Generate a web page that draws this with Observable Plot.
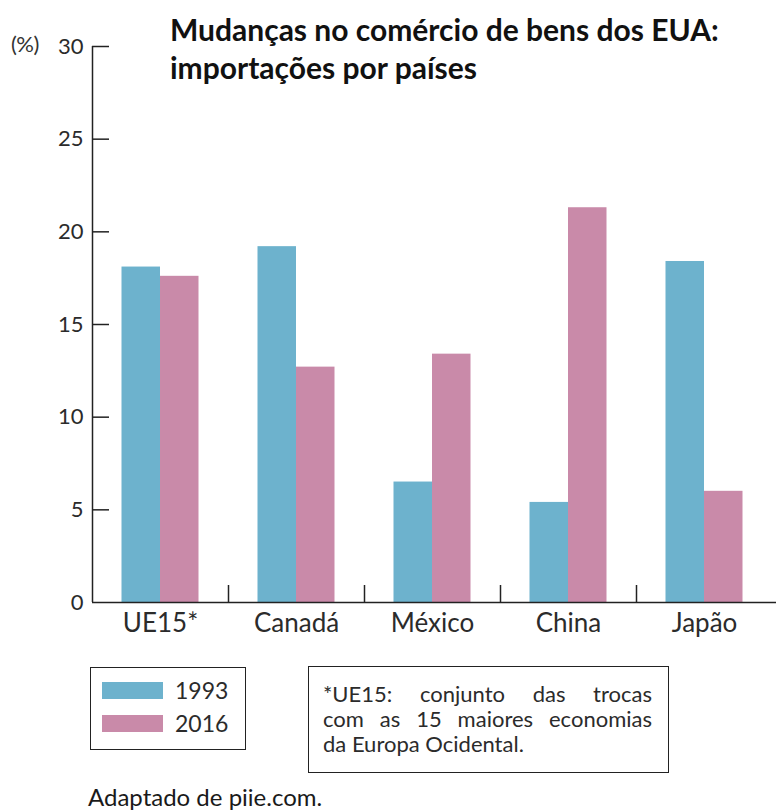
<!DOCTYPE html>
<html>
<head>
<meta charset="utf-8">
<script src="https://cdn.jsdelivr.net/npm/d3@7"></script>
<script src="https://cdn.jsdelivr.net/npm/@observablehq/plot@0.6"></script>
<style>
  html, body { margin: 0; padding: 0; background: #fff; }
  #wrap { position: relative; width: 776px; height: 810px; font-family: Lato, "Liberation Sans", sans-serif; color: #2b2b2b; }
  #wrap svg { display: block; position: absolute; left: 0; top: 0; }
  .title { position: absolute; left: 170px; top: 10px; font-size: 30px; font-weight: 700; line-height: 38px; color: #111; white-space: nowrap; }
  .unit { position: absolute; left: 11px; top: 32px; font-size: 22px; line-height: 24px; color: #333; letter-spacing: -0.5px; }
  .legend { position: absolute; left: 90px; top: 667px; width: 154px; height: 81px; border: 1.5px solid #222; }
  .legend .row { position: absolute; left: 11px; display: flex; align-items: center; font-size: 23px; }
  .legend .sw { width: 61px; height: 17px; margin-right: 12px; }
  .note { position: absolute; left: 308px; top: 666px; width: 361px; height: 107px; border: 1.5px solid #222; box-sizing: border-box; padding: 14px 16px 0 14px; font-size: 22px; line-height: 25px; }
  .note .j { text-align: justify; text-align-last: justify; }
  .source { position: absolute; left: 88px; top: 782px; font-size: 24px; color: #1a1a1a; }
</style>
</head>
<body>
<div id="wrap"></div>
<script>
const categories = ["UE15*", "Canadá", "México", "China", "Japão"];
const years = ["1993", "2016"];
const values1993 = [18.1, 19.2, 6.5, 5.4, 18.4];
const values2016 = [17.6, 12.7, 13.4, 21.3, 6.0];
const yTicks = [0, 5, 10, 15, 20, 25, 30];
const colors = ["#6db2cd", "#c98aa9"];
const titleLines = ["Mudanças no comércio de bens dos EUA:", "importações por países"];
const unitLabel = "(%)";
const noteLines = ["*UE15: conjunto das trocas", "com as 15 maiores economias", "da Europa Ocidental."];
const sourceText = "Adaptado de piie.com.";

const rows = [];
categories.forEach((c, i) => {
  rows.push({cat: c, year: years[0], value: values1993[i]});
  rows.push({cat: c, year: years[1], value: values2016[i]});
});

const W = 776, mL = 92, mR = 4, mT = 46, mB = 48, H = 650;
const band = (W - mL - mR) / categories.length;
const half = band / 2;
const barW = 38.5;
const tickLen = 17;

const chart = Plot.plot({
  width: W,
  height: H,
  marginLeft: mL,
  marginRight: mR,
  marginTop: mT,
  marginBottom: mB,
  style: {fontFamily: "Lato, 'Liberation Sans', sans-serif", color: "#2b2b2b", background: "transparent"},
  x: {domain: categories, padding: 0, label: null},
  y: {domain: [0, 30], label: null},
  color: {domain: years, range: colors},
  marks: [
    Plot.barY(rows.filter(d => d.year === years[0]), {x: "cat", y: "value", fill: "year", insetLeft: half - barW, insetRight: half}),
    Plot.barY(rows.filter(d => d.year === years[1]), {x: "cat", y: "value", fill: "year", insetLeft: half, insetRight: half - barW}),
    Plot.ruleY([0], {stroke: "#222", strokeWidth: 1.5, insetRight: -mR}),
    Plot.ruleX([categories[0]], {x: d => d, dx: -half, y1: 0, y2: 30, stroke: "#222", strokeWidth: 1.5}),
    Plot.ruleX(categories.slice(0, -1), {x: d => d, dx: half, y1: 0, y2: 30 * tickLen / (H - mT - mB), stroke: "#222", strokeWidth: 1.5}),
    Plot.tickY(yTicks.slice(1), {y: d => d, stroke: "#222", strokeWidth: 1.5, insetRight: (W - mL - mR) - tickLen}),
    Plot.axisY({ticks: yTicks, tickSize: 0, tickPadding: 9, fontSize: 22, label: null}),
    Plot.axisX({tickSize: 0, tickPadding: 11, fontSize: 26, label: null})
  ]
});

const wrap = document.getElementById("wrap");
wrap.appendChild(chart);

const t = document.createElement("div");
t.className = "title";
t.innerHTML = titleLines.join("<br>");
wrap.appendChild(t);

const u = document.createElement("div");
u.className = "unit";
u.textContent = unitLabel;
wrap.appendChild(u);

const lg = document.createElement("div");
lg.className = "legend";
years.forEach((y, i) => {
  const r = document.createElement("div");
  r.className = "row";
  r.style.top = (i === 0 ? 8 : 41) + "px";
  const sw = document.createElement("span");
  sw.className = "sw";
  sw.style.background = colors[i];
  const lab = document.createElement("span");
  lab.textContent = y;
  r.appendChild(sw); r.appendChild(lab);
  lg.appendChild(r);
});
wrap.appendChild(lg);

const nt = document.createElement("div");
nt.className = "note";
noteLines.forEach((l, i) => {
  const d = document.createElement("div");
  if (i < noteLines.length - 1) d.className = "j";
  d.textContent = l;
  nt.appendChild(d);
});
wrap.appendChild(nt);

const src = document.createElement("div");
src.className = "source";
src.textContent = sourceText;
wrap.appendChild(src);
</script>
</body>
</html>
